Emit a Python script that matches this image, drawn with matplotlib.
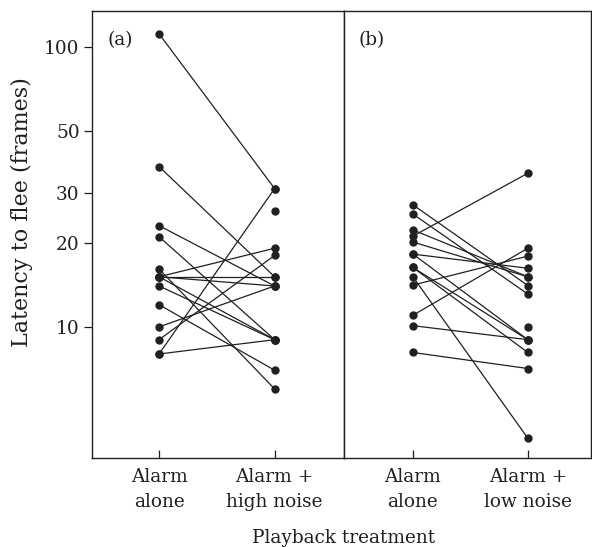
import numpy as np
import matplotlib.pyplot as plt
from matplotlib.ticker import FixedLocator, NullLocator

# panel (a): alarm alone vs alarm + high noise (one entry per subject)
a_alone = [111.5, 37.4, 23.0, 21.0, 16.1, 15.1, 15.1, 15.1, 15.1, 14.0, 12.0, 10.0, 9.0, 8.0, 8.0]
a_noise = [31.2, 15.1, 14.0, 9.0, 6.0, 9.0, 19.1, 15.1, 14.0, 9.0, 7.0, 14.0, 18.0, 31.2, 9.0]
a_noise_unpaired = [26.0]

# panel (b): alarm alone vs alarm + low noise
b_alone = [27.3, 25.3, 22.2, 21.1, 20.1, 18.2, 18.2, 16.3, 16.3, 15.1, 14.1, 11.0, 10.1, 8.1]
b_noise = [14.05, 13.1, 15.1, 35.4, 15.1, 16.2, 9.0, 9.0, 8.1, 4.0, 17.9, 19.1, 9.0, 7.1]
b_noise_unpaired = [10.0]

a_labels = ['Alarm\nalone', 'Alarm +\nhigh noise']
b_labels = ['Alarm\nalone', 'Alarm +\nlow noise']
y_ticks = [10, 20, 30, 50, 100]

ink = '#231f20'
plt.rcParams['font.family'] = ['DejaVu Serif']
plt.rcParams['font.size'] = 13.3

fig = plt.figure(figsize=(5.92, 5.47), dpi=100)
ax1 = fig.add_axes([92 / 592, 1 - 458 / 547, 252 / 592, 447 / 547])
ax2 = fig.add_axes([344 / 592, 1 - 458 / 547, 247 / 592, 447 / 547], sharey=ax1)


def draw_panel(ax, before, after, extra, labels, tag, xlim):
    for y0, y1 in zip(before, after):
        ax.plot([0, 1], [y0, y1], color=ink, lw=0.9, marker='o', ms=5,
                mfc=ink, mec=ink, solid_capstyle='round')
    ax.plot([1] * len(extra), extra, 'o', color=ink, ms=5)
    ax.set_xlim(*xlim)
    ax.set_xticks([0, 1])
    ax.set_xticklabels(labels, linespacing=1.5)
    ax.tick_params(axis='x', direction='in', length=6, width=0.9, color=ink,
                   pad=7, labelcolor=ink)
    for s in ax.spines.values():
        s.set_color(ink)
        s.set_linewidth(1.0)
    ax.text(0.06, 0.955, tag, transform=ax.transAxes, ha='left', va='top',
            color=ink)


draw_panel(ax1, a_alone, a_noise, a_noise_unpaired, a_labels, '(a)', (-0.58, 1.60))
draw_panel(ax2, b_alone, b_noise, b_noise_unpaired, b_labels, '(b)', (-0.60, 1.55))

ax1.set_yscale('log')
ax1.set_ylim(3.4, 134.5)
ax1.yaxis.set_major_locator(FixedLocator(y_ticks))
ax1.yaxis.set_minor_locator(NullLocator())
ax1.set_yticklabels([str(t) for t in y_ticks])
ax1.tick_params(axis='y', direction='out', length=6, width=0.9, color=ink,
                pad=3, labelcolor=ink)
ax1.set_ylabel('Latency to flee (frames)', color=ink, fontsize=16)
ax1.yaxis.set_label_coords(-0.235, 0.55)
ax2.tick_params(axis='y', left=False, labelleft=False)
ax2.yaxis.set_minor_locator(NullLocator())

fig.text(344 / 592, 1 - 538 / 547, 'Playback treatment', ha='center',
         va='center', color=ink)

fig.savefig('out.png', dpi=100)
